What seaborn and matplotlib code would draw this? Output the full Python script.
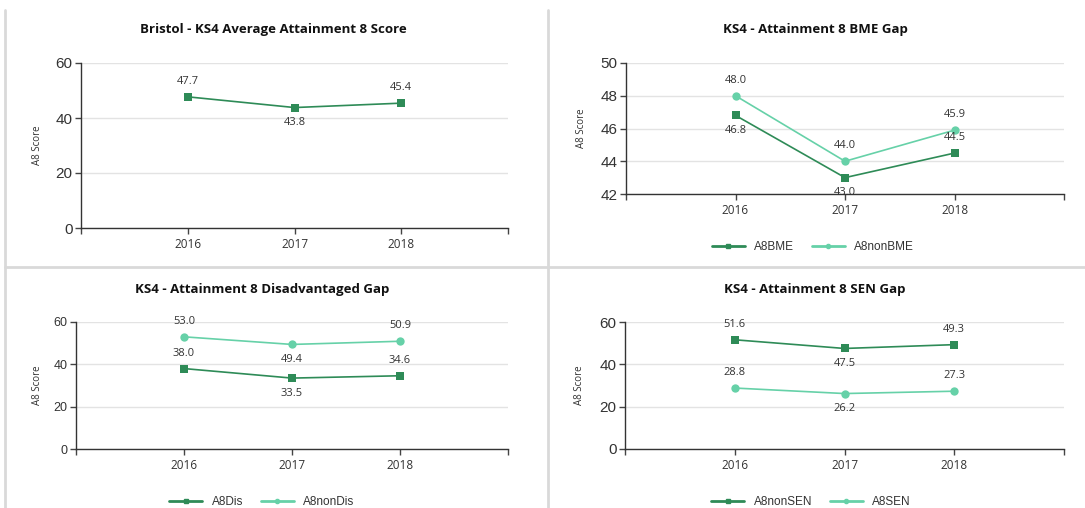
import pandas as pd
import seaborn as sns
import matplotlib.pyplot as plt
from matplotlib.lines import Line2D

# data
years = ['2016', '2017', '2018']
bristol = [47.7, 43.8, 45.4]
a8bme = [46.8, 43.0, 44.5]
a8nonbme = [48.0, 44.0, 45.9]
a8dis = [38.0, 33.5, 34.6]
a8nondis = [53.0, 49.4, 50.9]
a8nonsen = [51.6, 47.5, 49.3]
a8sen = [28.8, 26.2, 27.3]

dark = '#2e8b57'
light = '#66d1a8'
txt = '#333333'

sns.set_style('white')
plt.rcParams['font.family'] = ['Open Sans', 'DejaVu Sans']

W, H = 1085, 508
fig = plt.figure(figsize=(W / 100, H / 100), dpi=100)


def px_axes(l, t, r, b):
    return fig.add_axes([l / W, 1 - b / H, (r - l) / W, (b - t) / H])


def draw(ax, series, ylim, yticks, places, ytick_size=11):
    rows = []
    for name, vals, col, mk in series:
        for y, v in zip(years, vals):
            rows.append({'year': y, 'score': v, 'series': name})
    df = pd.DataFrame(rows)
    sns.lineplot(data=df, x='year', y='score', hue='series', style='series',
                 palette={s[0]: s[2] for s in series},
                 markers={s[0]: s[3] for s in series}, dashes=False,
                 markersize=6, linewidth=1.2, markeredgewidth=0,
                 legend=False, ax=ax)
    for (name, vals, col, mk), pl in zip(series, places):
        for i, (v, p) in enumerate(zip(vals, pl)):
            ax.annotate(f'{v:.1f}', (i, v), xytext=(0, 11 if p == 'a' else -11),
                        textcoords='offset points', ha='center', va='center',
                        fontsize=8, color=txt)
    ax.set_xlim(-1, 3)
    ax.set_ylim(*ylim)
    ax.set_yticks(yticks)
    ax.set_xticks([-1, 0, 1, 2, 3])
    ax.set_xticklabels(['', '2016', '2017', '2018', ''], fontsize=8.5, color=txt)
    ax.tick_params(axis='y', labelsize=ytick_size, labelcolor=txt,
                   labelfontfamily='Liberation Sans', pad=2)
    ax.tick_params(left=True, bottom=True, length=4, width=1, color='#444444')
    ax.grid(axis='y', color='#e3e3e3', linewidth=1)
    for s in ['top', 'right']:
        ax.spines[s].set_visible(False)
    for s in ['left', 'bottom']:
        ax.spines[s].set_color('#333333')
        ax.spines[s].set_linewidth(1)
    ax.set_xlabel('')
    ax.set_ylabel('')


def legend(series, cx, cy):
    handles = [Line2D([], [], color=c, marker=m, markersize=3, linewidth=2)
               for _, _, c, m in series]
    fig.legend(handles, [s[0] for s in series], loc='center',
               bbox_to_anchor=(cx / W, 1 - cy / H), ncol=len(series),
               frameon=False, fontsize=8.5, handlelength=2.8, columnspacing=1.5,
               prop={'family': 'Liberation Sans', 'size': 8.5}, labelcolor=txt)


panels = [
    dict(box=(81, 63, 508, 228), title='Bristol - KS4 Average Attainment 8 Score',
         tx=273, ty=30, ylx=37,
         series=[('Bristol', bristol, dark, 's')], places=['aba'],
         ylim=(0, 60), yticks=[0, 20, 40, 60], leg=None, ys=11),
    dict(box=(626, 63, 1064, 194), title='KS4 - Attainment 8 BME Gap',
         tx=815, ty=30, ylx=581,
         series=[('A8BME', a8bme, dark, 's'), ('A8nonBME', a8nonbme, light, 'o')],
         places=['bba', 'aaa'], ylim=(42, 50), yticks=[42, 44, 46, 48, 50],
         leg=(813, 247), ys=11),
    dict(box=(76, 322, 508, 449), title='KS4 - Attainment 8 Disadvantaged Gap',
         tx=262, ty=290, ylx=37,
         series=[('A8Dis', a8dis, dark, 's'), ('A8nonDis', a8nondis, light, 'o')],
         places=['aba', 'aba'], ylim=(0, 60), yticks=[0, 20, 40, 60],
         leg=(262, 502), ys=9),
    dict(box=(625, 322, 1064, 449), title='KS4 - Attainment 8 SEN Gap',
         tx=815, ty=290, ylx=580,
         series=[('A8nonSEN', a8nonsen, dark, 's'), ('A8SEN', a8sen, light, 'o')],
         places=['aba', 'aba'], ylim=(0, 60), yticks=[0, 20, 40, 60],
         leg=(811, 502), ys=11),
]

for p in panels:
    ax = px_axes(*p['box'])
    draw(ax, p['series'], p['ylim'], p['yticks'], p['places'], p['ys'])
    fig.text(p['tx'] / W, 1 - p['ty'] / H, p['title'], ha='center', va='center',
             fontsize=9.5, fontweight='bold', color='#111111')
    cy = (p['box'][1] + p['box'][3]) / 2
    fig.text(p['ylx'] / W, 1 - cy / H, 'A8 Score', rotation=90, ha='center',
             va='center', fontsize=7, color=txt)
    if p['leg']:
        legend(p['series'], *p['leg'])

# panel separators
sep = '#d9d9d9'
fig.add_artist(Line2D([5 / W, 5 / W], [0, 1 - 10 / H], color=sep, linewidth=2))
fig.add_artist(Line2D([548 / W, 548 / W], [0, 1 - 10 / H], color=sep, linewidth=2))
fig.add_artist(Line2D([5 / W, 1], [1 - 267 / H, 1 - 267 / H], color=sep, linewidth=2))

fig.savefig('out.png', dpi=100)
